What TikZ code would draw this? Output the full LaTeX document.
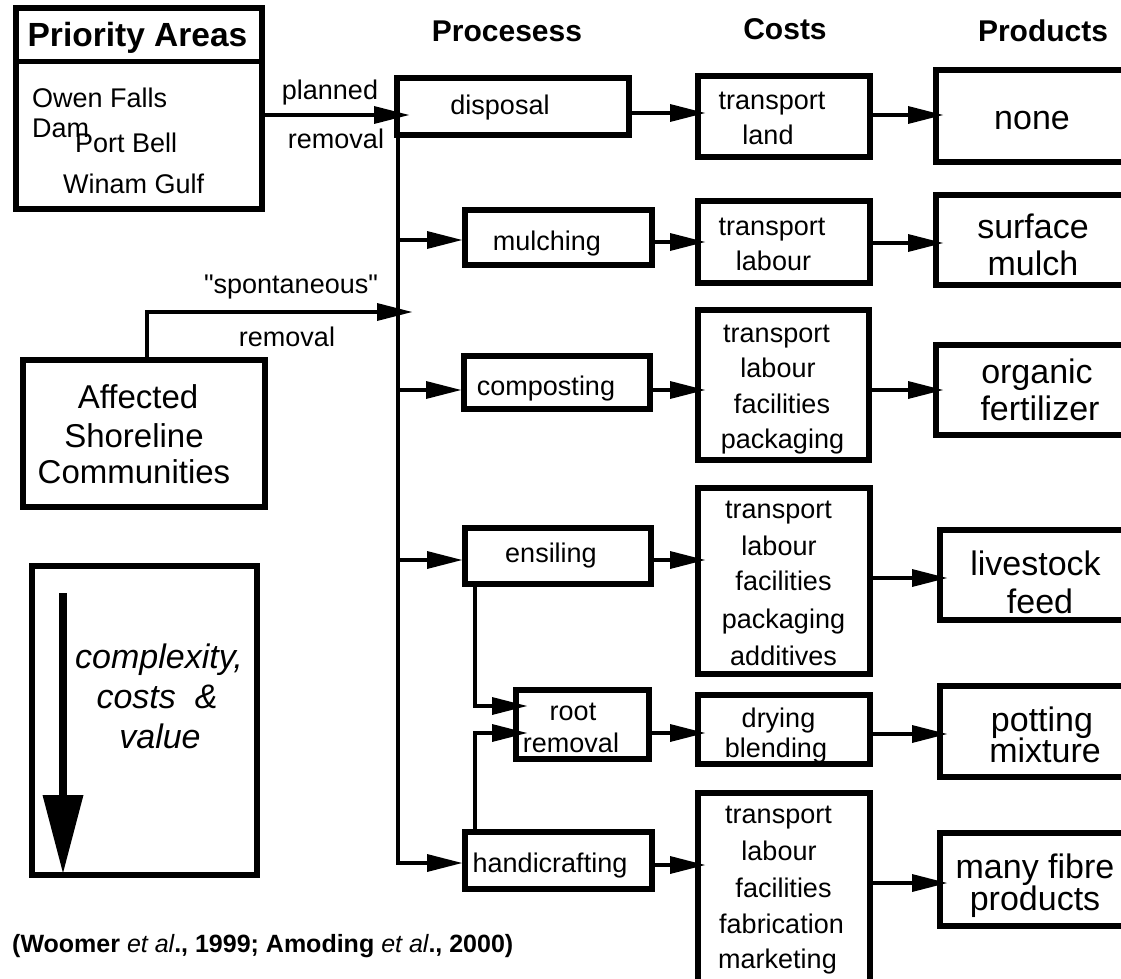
\documentclass[tikz,border=0pt]{standalone}
\usepackage{fontspec}
\setmainfont{Liberation Sans}[Ligatures=TeXOff]
\usetikzlibrary{arrows.meta}
\begin{document}
\begin{tikzpicture}[x=1pt,y=-1pt,
  box/.style={draw, line width=6pt, rectangle, inner sep=0pt},
  conn/.style={line width=4pt, -{Triangle[length=35pt,width=18pt,line width=0pt]}},
  into/.style={shorten >=-10pt},
  txt/.style={inner sep=0pt, anchor=base, font=\fontsize{27}{32}\selectfont},
  big/.style={inner sep=0pt, anchor=base, font=\fontsize{34}{40}\selectfont},
  mid/.style={inner sep=0pt, anchor=base, font=\fontsize{33}{38}\selectfont},
  slant/.style={inner sep=0pt, anchor=base, font=\itshape\fontsize{34}{40}\selectfont},
  head/.style={inner sep=0pt, anchor=base, font=\bfseries\fontsize{30}{36}\selectfont},
]
\useasboundingbox (0,0) rectangle (1121,979);

% column headings
\node[head] (h-proc) at (507,42) {Procesess};
\node[head] (h-cost) at (785,40) {Costs};
\node[head] (h-prod) at (1043,42) {Products};

% priority areas
\node[box, minimum width=246pt, minimum height=201pt] (prio) at (139,108.5) {};
\coordinate (divy) at (0,62);
\draw[line width=5pt] (prio.west |- divy) -- (prio.east |- divy);
\node[inner sep=0pt, anchor=base, font=\bfseries\fontsize{33.5}{38}\selectfont] (prio-title) at (137.5,47) {Priority Areas};
\node[txt, anchor=base west] (owen) at (32,108) {Owen Falls};
\node[txt, anchor=base west] (dam) at (32,138) {Dam};
\node[txt, anchor=base west] (port) at (75,152) {Port Bell};
\node[txt, anchor=base west] (winam) at (63,193) {Winam Gulf};

% shoreline communities
\node[box, minimum width=242pt, minimum height=147pt] (aff) at (144,433.5) {};
\node[mid] (aff-1) at (138,408) {Affected};
\node[mid] (aff-2) at (134,447) {Shoreline};
\node[mid] (aff-3) at (134,483) {Communities};

% gradient box
\node[box, minimum width=225pt, minimum height=309pt] (cplx) at (144.5,720.5) {};
\coordinate (cplx-top) at (63,593);
\coordinate (cplx-tip) at (63,873);
\draw[line width=8pt, -{Triangle[length=78pt,width=41pt,line width=0pt]}] (cplx-top) -- (cplx-tip);
\node[slant] (cplx-1) at (159,668) {complexity,};
\node[slant] (cplx-2) at (157,708) {costs~~\&};
\node[slant] (cplx-3) at (160,748) {value};

% processes
\node[box, minimum width=232pt, minimum height=57pt] (disp) at (513,106.5) {};
\node[box, minimum width=187pt, minimum height=55pt] (mulch) at (558.5,237.5) {};
\node[box, minimum width=186pt, minimum height=53pt] (comp) at (557,382.5) {};
\node[box, minimum width=186pt, minimum height=56pt] (ens) at (558,556) {};
\node[box, minimum width=133pt, minimum height=69pt] (root) at (582.5,724.5) {};
\node[box, minimum width=187pt, minimum height=57pt] (hand) at (558.5,860.5) {};
\node[txt] (disp-t) at (500,115) {disposal};
\node[txt] (mulch-t) at (547,250) {mulching};
\node[txt] (comp-t) at (546,395) {composting};
\node[txt] (ens-t) at (551,562) {ensiling};
\node[txt] (root-t1) at (573,720) {root};
\node[txt] (root-t2) at (571,752) {removal};
\node[txt] (hand-t) at (550,872) {handicrafting};

% costs
\node[box, minimum width=172pt, minimum height=81pt] (c1) at (784,116.5) {};
\node[box, minimum width=172pt, minimum height=82pt] (c2) at (784,242) {};
\node[box, minimum width=171pt, minimum height=150pt] (c3) at (783.5,385) {};
\node[box, minimum width=172pt, minimum height=186pt] (c4) at (784,581) {};
\node[box, minimum width=172pt, minimum height=69pt] (c5) at (784,729.5) {};
\node[box, minimum width=172pt, minimum height=191pt] (c6) at (784,888.5) {};
\node[txt] (c1-1) at (772,110) {transport};
\node[txt] (c1-2) at (768,145) {land};
\node[txt] (c2-1) at (772,235) {transport};
\node[txt] (c2-2) at (773.5,270) {labour};
\node[txt] (c3-1) at (776.5,342) {transport};
\node[txt] (c3-2) at (778,377) {labour};
\node[txt] (c3-3) at (782,413) {facilities};
\node[txt] (c3-4) at (782.5,448) {packaging};
\node[txt] (c4-1) at (778.5,518) {transport};
\node[txt] (c4-2) at (779,555) {labour};
\node[txt] (c4-3) at (783.5,590) {facilities};
\node[txt] (c4-4) at (783.5,628) {packaging};
\node[txt] (c4-5) at (783.5,665) {additives};
\node[txt] (c5-1) at (778.5,727) {drying};
\node[txt] (c5-2) at (776,757) {blending};
\node[txt] (c6-1) at (778.5,823) {transport};
\node[txt] (c6-2) at (779,860) {labour};
\node[txt] (c6-3) at (783.5,897) {facilities};
\node[txt] (c6-4) at (781.5,933) {fabrication};
\node[txt] (c6-5) at (777.5,968) {marketing};

% products
\node[box, minimum width=199pt, minimum height=92pt] (p1) at (1035.5,116) {};
\node[box, minimum width=199pt, minimum height=90pt] (p2) at (1035.5,240) {};
\node[box, minimum width=199pt, minimum height=90pt] (p3) at (1035.5,390) {};
\node[box, minimum width=195pt, minimum height=90pt] (p4) at (1037.5,575) {};
\node[box, minimum width=195pt, minimum height=91pt] (p5) at (1037.5,731.5) {};
\node[box, minimum width=195pt, minimum height=93pt] (p6) at (1037.5,879.5) {};
\node[big] (p1-1) at (1032,130) {none};
\node[big] (p2-1) at (1033,238) {surface};
\node[big] (p2-2) at (1033,275) {mulch};
\node[big] (p3-1) at (1037,383) {organic};
\node[big] (p3-2) at (1040,420) {fertilizer};
\node[big] (p4-1) at (1035.5,575) {livestock};
\node[big] (p4-2) at (1040,613) {feed};
\node[big] (p5-1) at (1042,731) {potting};
\node[big] (p5-2) at (1045,762) {mixture};
\node[big] (p6-1) at (1035,878) {many fibre};
\node[big] (p6-2) at (1035,910) {products};

% removal routes
\coordinate (r-plan) at (0,115);
\draw[conn, shorten >=-15pt] (prio.east |- r-plan) -- (disp.west |- r-plan);
\node[txt] (plan-1) at (330,100) {planned};
\node[txt] (plan-2) at (336,148) {removal};
\coordinate (sp-foot) at (147,0);
\coordinate (spont) at (412,312);
\draw[conn] (aff.north -| sp-foot) |- (spont);
\node[txt] (spont-1) at (291,293) {"spontaneous"};
\node[txt] (spont-2) at (287,346) {removal};

% trunk and its branches
\coordinate (trunk) at (398,136);
\coordinate (r-mulch) at (0,240);
\coordinate (r-comp) at (0,390);
\coordinate (r-ens) at (0,560);
\coordinate (r-hand) at (0,863);
\draw[conn] (trunk) |- (hand.west |- r-hand);
\draw[conn] (trunk |- r-mulch) -- (mulch.west |- r-mulch);
\draw[conn] (trunk |- r-comp) -- (comp.west |- r-comp);
\draw[conn] (trunk |- r-ens) -- (ens.west |- r-ens);

% feeds into root removal
\coordinate (er) at (475,0);
\coordinate (r-er) at (0,706);
\coordinate (r-hr) at (0,733);
\draw[conn, shorten >=-14pt] (ens.south -| er) |- (root.west |- r-er);
\draw[conn, shorten >=-14pt] (hand.north -| er) |- (root.west |- r-hr);

% processes to costs
\coordinate (k1) at (0,113);
\coordinate (k2) at (0,242);
\coordinate (k3) at (0,390);
\coordinate (k4) at (0,560);
\coordinate (k5) at (0,733);
\coordinate (k6) at (0,865);
\draw[conn, into] (disp.east |- k1) -- (c1.west |- k1);
\draw[conn, into] (mulch.east |- k2) -- (c2.west |- k2);
\draw[conn, into] (comp.east |- k3) -- (c3.west |- k3);
\draw[conn, into] (ens.east |- k4) -- (c4.west |- k4);
\draw[conn, into] (root.east |- k5) -- (c5.west |- k5);
\draw[conn, into] (hand.east |- k6) -- (c6.west |- k6);

% costs to products
\coordinate (q1) at (0,115);
\coordinate (q2) at (0,243);
\coordinate (q3) at (0,390);
\coordinate (q4) at (0,578);
\coordinate (q5) at (0,734);
\coordinate (q6) at (0,883);
\draw[conn, into] (c1.east |- q1) -- (p1.west |- q1);
\draw[conn, into] (c2.east |- q2) -- (p2.west |- q2);
\draw[conn, into] (c3.east |- q3) -- (p3.west |- q3);
\draw[conn, into] (c4.east |- q4) -- (p4.west |- q4);
\draw[conn, into] (c5.east |- q5) -- (p5.west |- q5);
\draw[conn, into] (c6.east |- q6) -- (p6.west |- q6);

% source
\node[inner sep=0pt, anchor=base west, font=\bfseries\fontsize{25}{30}\selectfont] (cite) at (12,952)
  {(Woomer \textmd{\itshape et al}., 1999; Amoding \textmd{\itshape et al}., 2000)};
\end{tikzpicture}
\end{document}
